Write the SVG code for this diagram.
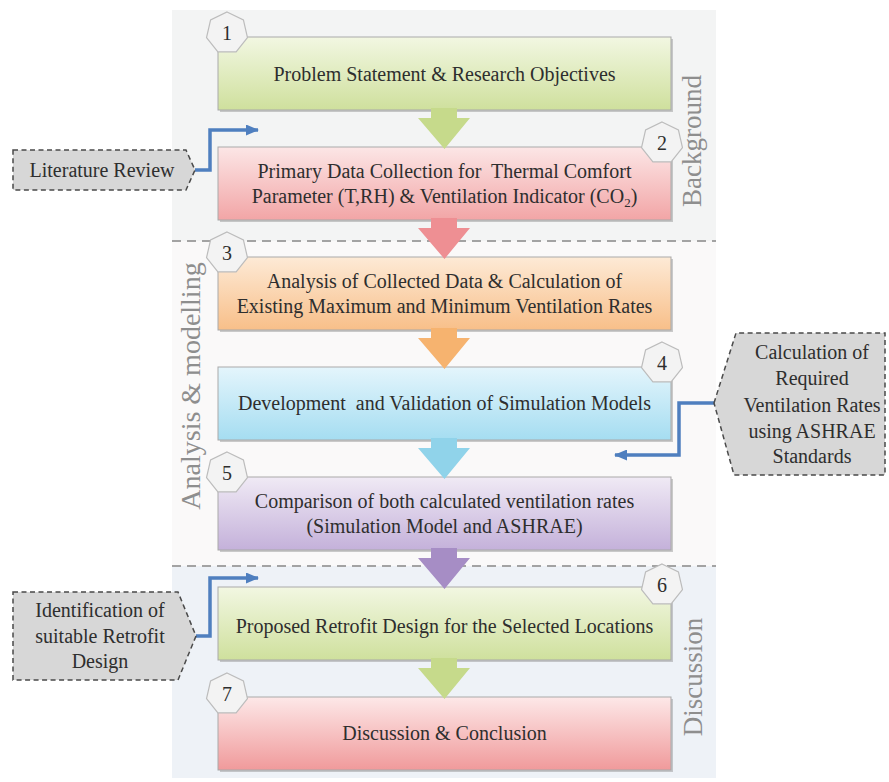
<svg xmlns="http://www.w3.org/2000/svg" width="889" height="782" viewBox="0 0 889 782">
<defs>
<linearGradient id="gGreen" x1="0" y1="0" x2="0" y2="1"><stop offset="0" stop-color="#f2f7e2"/><stop offset="1" stop-color="#cfe09d"/></linearGradient>
<linearGradient id="gPink" x1="0" y1="0" x2="0" y2="1"><stop offset="0" stop-color="#fce6e6"/><stop offset="1" stop-color="#f2a5a6"/></linearGradient>
<linearGradient id="gOrange" x1="0" y1="0" x2="0" y2="1"><stop offset="0" stop-color="#fdead6"/><stop offset="1" stop-color="#f8bf89"/></linearGradient>
<linearGradient id="gBlue" x1="0" y1="0" x2="0" y2="1"><stop offset="0" stop-color="#e4f5fc"/><stop offset="1" stop-color="#a5ddf1"/></linearGradient>
<linearGradient id="gPurple" x1="0" y1="0" x2="0" y2="1"><stop offset="0" stop-color="#f0eaf5"/><stop offset="1" stop-color="#c4b1da"/></linearGradient>
<linearGradient id="gRed" x1="0" y1="0" x2="0" y2="1"><stop offset="0" stop-color="#fde8e8"/><stop offset="1" stop-color="#f09a9b"/></linearGradient>
<polygon id="hept" points="0,-21 16.42,-13.09 20.47,4.67 9.11,18.92 -9.11,18.92 -20.47,4.67 -16.42,-13.09"/>
<marker id="ah" markerUnits="userSpaceOnUse" markerWidth="13" markerHeight="11" refX="12" refY="5.5" orient="auto"><path d="M0,0 L13,5.5 L0,11 Z" fill="#4f7fbf"/></marker>
</defs>
<style>
text{font-family:'Liberation Serif','Tinos','DejaVu Serif',serif}
.box{stroke:#a9a9a9;stroke-width:1}
.shadow{fill:#8f8f8f;opacity:.45}
.t{font-size:20px;fill:#2e2e2e;text-anchor:middle}
.badge{fill:#f3f3f3;stroke:#bcbcbc;stroke-width:1.2}
.sec{font-size:27px;fill:#8e8e8e;text-anchor:middle}
.sep{stroke:#a3a3a3;stroke-width:2;stroke-dasharray:9 6;fill:none}
.note{fill:#d7d7d7;stroke:#4a4a4a;stroke-width:1.5;stroke-dasharray:5 3.5}
.conn{fill:none;stroke:#4f7fbf;stroke-width:3.5;marker-end:url(#ah)}
</style>

<g id="panels">
<rect x="172" y="10" width="544" height="231" fill="#f3f4f4"/>
<rect x="172" y="241" width="544" height="325" fill="#faf9f9"/>
<rect x="172" y="566" width="544" height="212" fill="#eef2f7"/>
<line class="sep" x1="172" y1="241" x2="716" y2="241"/>
<line class="sep" x1="172" y1="566" x2="716" y2="566"/>
<text class="sec" transform="rotate(-90 701 141)" x="701" y="141">Background</text>
<text class="sec" style="font-size:28px" transform="rotate(-90 200 386)" x="200" y="386">Analysis &amp; modelling</text>
<text class="sec" transform="rotate(-90 702 677)" x="702" y="677">Discussion</text>
</g>

<g id="node1">
<rect class="shadow" x="220" y="39" width="453" height="73"/>
<rect class="box" x="218" y="37" width="453" height="73" fill="url(#gGreen)"/>
<text class="t" x="444.5" y="81">Problem Statement &amp; Research Objectives</text>
</g>
<g id="node2">
<rect class="shadow" x="220" y="149" width="453" height="73"/>
<rect class="box" x="218" y="147" width="453" height="73" fill="url(#gPink)"/>
<text class="t" x="444.5" y="178" xml:space="preserve">Primary Data Collection for  Thermal Comfort</text>
<text class="t" x="444.5" y="203">Parameter (T,RH) &amp; Ventilation Indicator (CO<tspan font-size="13" dy="4">2</tspan><tspan dy="-4">)</tspan></text>
</g>
<g id="node3">
<rect class="shadow" x="220" y="259" width="453" height="73"/>
<rect class="box" x="218" y="257" width="453" height="73" fill="url(#gOrange)"/>
<text class="t" x="444.5" y="288">Analysis of Collected Data &amp; Calculation of</text>
<text class="t" x="444.5" y="313">Existing Maximum and Minimum Ventilation Rates</text>
</g>
<g id="node4">
<rect class="shadow" x="220" y="369" width="453" height="73"/>
<rect class="box" x="218" y="367" width="453" height="73" fill="url(#gBlue)"/>
<text class="t" x="444.5" y="410" xml:space="preserve">Development  and Validation of Simulation Models</text>
</g>
<g id="node5">
<rect class="shadow" x="220" y="479" width="453" height="73"/>
<rect class="box" x="218" y="477" width="453" height="73" fill="url(#gPurple)"/>
<text class="t" x="444.5" y="508">Comparison of both calculated ventilation rates</text>
<text class="t" x="444.5" y="533">(Simulation Model and ASHRAE)</text>
</g>
<g id="node6">
<rect class="shadow" x="220" y="589" width="453" height="73"/>
<rect class="box" x="218" y="587" width="453" height="73" fill="url(#gGreen)"/>
<text class="t" x="444.5" y="633">Proposed Retrofit Design for the Selected Locations</text>
</g>
<g id="node7">
<rect class="shadow" x="220" y="699" width="453" height="73"/>
<rect class="box" x="218" y="697" width="453" height="73" fill="url(#gRed)"/>
<text class="t" x="444.5" y="740">Discussion &amp; Conclusion</text>
</g>

<g id="connectors">
<path d="M431,108 H457 V118 H470 L444.5,149 L418,118 H431 Z" fill="#c6da8b"/>
<path d="M431,218 H457 V228 H470 L444.5,259 L418,228 H431 Z" fill="#ee8f93"/>
<path d="M431,328 H457 V338 H470 L444.5,369 L418,338 H431 Z" fill="#f6b36f"/>
<path d="M431,438 H457 V448 H470 L444.5,479 L418,448 H431 Z" fill="#90d3ea"/>
<path d="M431,548 H457 V558 H470 L444.5,589 L418,558 H431 Z" fill="#a68dc5"/>
<path d="M431,658 H457 V668 H470 L444.5,699 L418,668 H431 Z" fill="#c6da8b"/>
<path class="conn" d="M195,170 H210 V130 H258"/>
<path class="conn" d="M714,403 H679 V455 H615"/>
<path class="conn" d="M196,636 H210 V578 H258"/>
</g>

<g id="badges">
<g id="badge1"><use href="#hept" x="227" y="33" class="badge"/><text class="t" x="227" y="40">1</text></g>
<g id="badge2"><use href="#hept" x="662" y="143" class="badge"/><text class="t" x="662" y="150">2</text></g>
<g id="badge3"><use href="#hept" x="227" y="253" class="badge"/><text class="t" x="227" y="260">3</text></g>
<g id="badge4"><use href="#hept" x="662" y="363" class="badge"/><text class="t" x="662" y="370">4</text></g>
<g id="badge5"><use href="#hept" x="227" y="473" class="badge"/><text class="t" x="227" y="480">5</text></g>
<g id="badge6"><use href="#hept" x="662" y="585" class="badge"/><text class="t" x="662" y="592">6</text></g>
<g id="badge7"><use href="#hept" x="227" y="694" class="badge"/><text class="t" x="227" y="701">7</text></g>
</g>

<g id="note-literature">
<path class="note" d="M13,150 H186 L195,170 L186,190 H13 Z"/>
<text class="t" x="102" y="177">Literature Review</text>
</g>
<g id="note-ashrae">
<path class="note" d="M714,403 L736,333 H885 V475 H734 Z"/>
<text class="t" x="812" y="359">Calculation of</text>
<text class="t" x="812" y="385">Required</text>
<text class="t" x="812" y="412">Ventilation Rates</text>
<text class="t" x="812" y="438">using ASHRAE</text>
<text class="t" x="812" y="463">Standards</text>
</g>
<g id="note-retrofit">
<path class="note" d="M13,592 H178 L196,636 L178,680 H13 Z"/>
<text class="t" x="100" y="617">Identification of</text>
<text class="t" x="100" y="643">suitable Retrofit</text>
<text class="t" x="100" y="668">Design</text>
</g>
</svg>
